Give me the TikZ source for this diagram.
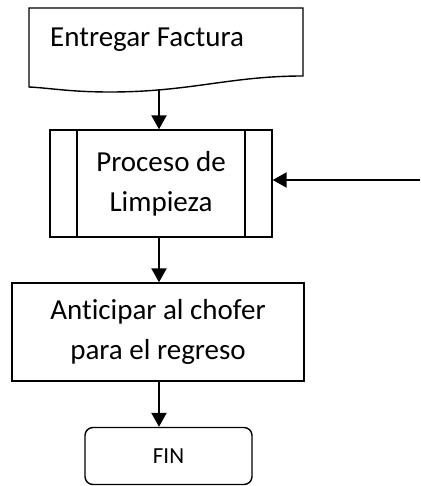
\documentclass[tikz,border=0pt]{standalone}
\usepackage{fontspec}
\setmainfont[Ligatures={NoCommon}]{Carlito}
\usetikzlibrary{arrows.meta}
\begin{document}
\begin{tikzpicture}[x=1pt,y=-1pt,
  box/.style={draw=black,line width=1.4pt,fill=white,align=center,font=\fontsize{29}{40}\selectfont},
  arr/.style={line width=2.3pt,-{Triangle[length=14pt,width=15pt]}},
  txt/.style={font=\fontsize{29}{40}\selectfont,align=center,inner sep=0pt}]
\useasboundingbox (0,0) rectangle (420,486);
% Document shape
\draw[line width=1.4pt,fill=white] (29,8) -- (303,8) -- (303,76)
  .. controls (230,76) and (190,92) .. (110,92)
  .. controls (70,92) and (50,88) .. (29,87) -- cycle;
\node[txt,anchor=base west] (doc) at (50,47) {Entregar Factura};
\coordinate (docb) at (159,89);
% Predefined process
\node[box,minimum width=222pt,minimum height=107pt,inner sep=0pt] (proc) at (161,183.5) {Proceso de\\Limpieza};
\draw[line width=1.4pt] (77,130) -- (77,237) (245,130) -- (245,237);
\coordinate (right) at (420,180);
% Process box
\node[box,minimum width=292pt,minimum height=98pt,inner sep=0pt] (ant) at (158,332) {Anticipar al chofer\\para el regreso};
% Terminal
\node[box,rounded corners=8pt,minimum width=167pt,minimum height=57pt,inner sep=0pt,font=\fontsize{23}{28}\selectfont] (fin) at (168.5,456) {FIN};
% Arrows
\draw[arr] (docb) -- (proc.north -| docb);
\draw[arr] (right) -- (proc.east |- right);
\draw[arr] (proc.south -| docb) -- (ant.north -| docb);
\draw[arr] (ant.south -| docb) -- (fin.north -| docb);
\end{tikzpicture}
\end{document}
